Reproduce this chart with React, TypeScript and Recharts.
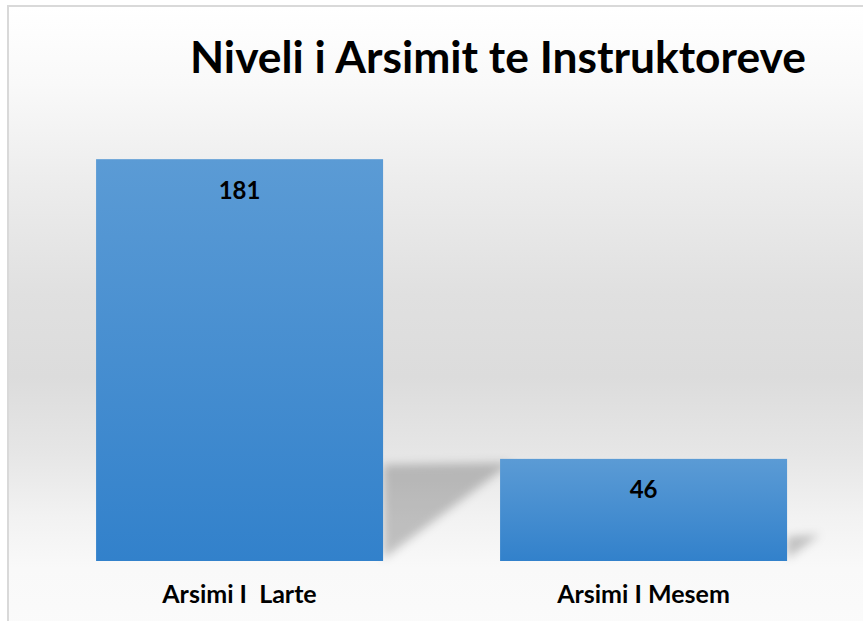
import React from "react";
import { BarChart, Bar, XAxis, YAxis, LabelList } from "recharts";

const categories = ["Arsimi I  Larte", "Arsimi I Mesem"];
const values = [181, 46];
const title = "Niveli i Arsimit te Instruktoreve";

const data = categories.map((c, i) => ({ name: c, value: values[i] }));

const FONT = "Lato, 'Open Sans', sans-serif";

const BarShape = (props: any) => {
  const { x, y, width, height } = props;
  const xr = x + width;
  const bottom = y + height;
  const sh = height * 0.24;
  const sw = height * 0.32;
  const pts = `${xr},${bottom - 2} ${xr},${bottom - sh} ${xr + sw},${bottom - sh - 2}`;
  return (
    <g>
      <polygon points={pts} fill="#000" fillOpacity={0.22} filter="url(#shBlur)" />
      <rect x={x} y={y} width={width} height={height} fill="url(#barGrad)" />
    </g>
  );
};

const ValueLabel = (props: any) => {
  const { x, y, width, value } = props;
  return (
    <text
      x={x + width / 2}
      y={y + 30}
      textAnchor="middle"
      dominantBaseline="central"
      fontFamily={FONT}
      fontWeight={700}
      fontSize={24}
      fill="#000"
    >
      {value}
    </text>
  );
};

const CatTick = (props: any) => {
  const { x, y, payload } = props;
  return (
    <text
      x={x}
      y={y + 34}
      textAnchor="middle"
      fontFamily={FONT}
      fontWeight={700}
      fontSize={25}
      fill="#000"
      style={{ whiteSpace: "pre" }}
    >
      {payload.value}
    </text>
  );
};

export default function App() {
  const W = 880;
  const H = 640;
  return (
    <div
      style={{
        position: "absolute",
        left: 7,
        top: 5,
        width: W,
        height: H,
        borderLeft: "2px solid #d9d9d9",
        borderTop: "2px solid #d9d9d9",
        boxSizing: "border-box",
        background:
          "linear-gradient(to bottom, #ffffff 0%, #f9f9f9 12%, #ececec 28%, #e0e0e0 45%, #dcdcdc 58%, #e6e6e6 70%, #f2f2f2 80%, #f9f9f9 88%, #fbfbfb 100%)",
        overflow: "hidden",
      }}
    >
      <svg
        width={W}
        height={90}
        style={{ position: "absolute", left: -2, top: -2 }}
      >
        <text
          x={491}
          y={68}
          textAnchor="middle"
          fontFamily={FONT}
          fontWeight={700}
          fontSize={44}
          textLength={616}
          lengthAdjust="spacingAndGlyphs"
          fill="#000"
        >
          {title}
        </text>
      </svg>
      <div style={{ position: "absolute", left: -2, top: -2 }}>
        <BarChart
          width={W}
          height={H}
          data={data}
          margin={{ top: 112, right: 41.5, bottom: 54, left: 30.5 }}
          barCategoryGap="14.5%"
        >
          <defs>
            <linearGradient id="barGrad" x1="0" y1="0" x2="0" y2="1">
              <stop offset="0%" stopColor="#5b9bd5" />
              <stop offset="100%" stopColor="#3281cb" />
            </linearGradient>
            <filter id="shBlur" x="-50%" y="-50%" width="200%" height="200%">
              <feGaussianBlur stdDeviation="5" />
            </filter>
          </defs>
          <XAxis
            dataKey="name"
            axisLine={false}
            tickLine={false}
            height={30}
            interval={0}
            tick={<CatTick />}
          />
          <YAxis hide domain={[0, 200]} />
          <Bar dataKey="value" isAnimationActive={false} shape={<BarShape />}>
            <LabelList dataKey="value" content={<ValueLabel />} />
          </Bar>
        </BarChart>
      </div>
    </div>
  );
}
